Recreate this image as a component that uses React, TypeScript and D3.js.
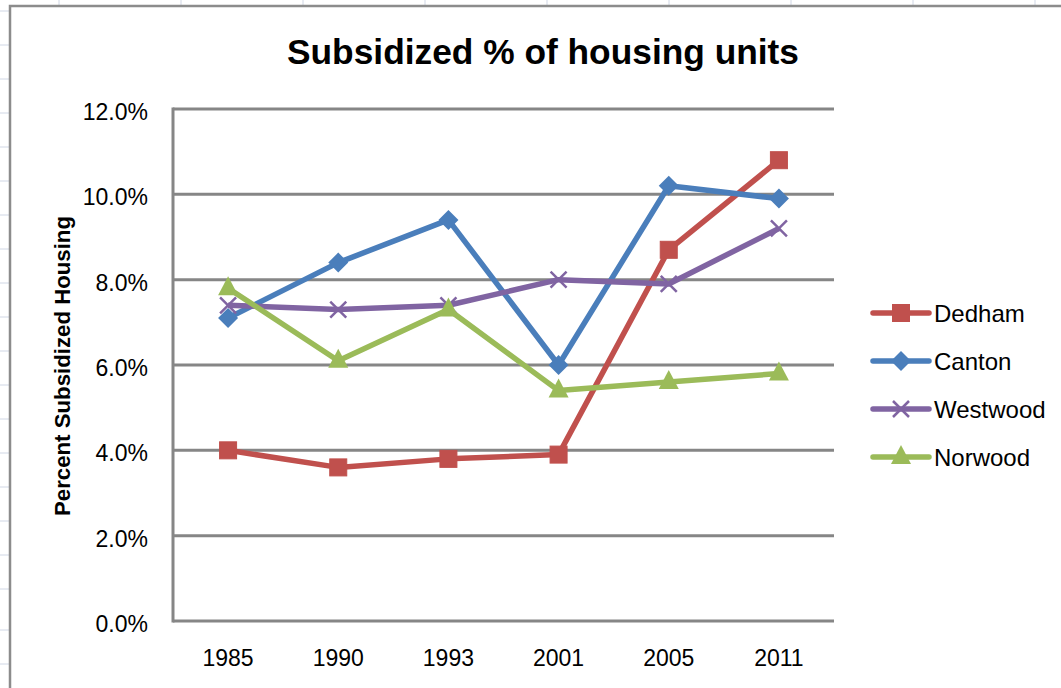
import React from "react";
import * as d3 from "d3";

const years = ["1985", "1990", "1993", "2001", "2005", "2011"];
const dedham = [4.0, 3.6, 3.8, 3.9, 8.7, 10.8];
const canton = [7.1, 8.4, 9.4, 6.0, 10.2, 9.9];
const westwood = [7.4, 7.3, 7.4, 8.0, 7.9, 9.2];
const norwood = [7.8, 6.1, 7.3, 5.4, 5.6, 5.8];
const yTicks = [0, 2, 4, 6, 8, 10, 12];

const seriesNames = ["Dedham", "Canton", "Westwood", "Norwood"];
const seriesColors = ["#C0504D", "#4A7EBB", "#8064A2", "#9BBB59"];
const seriesMarkers = ["square", "diamond", "x", "triangle"];
const seriesValues = [dedham, canton, westwood, norwood];

const W = 1061;
const H = 688;
const FONT = "'Liberation Sans', Arial, sans-serif";

function Marker({ type, x, y, color }: { type: string; x: number; y: number; color: string }) {
  if (type === "square") {
    return <rect x={x - 8.5} y={y - 8.5} width={17} height={17} fill={color} stroke={color} strokeWidth={1} />;
  }
  if (type === "diamond") {
    const s = 10;
    return <path d={`M${x},${y - s}L${x + s},${y}L${x},${y + s}L${x - s},${y}Z`} fill={color} />;
  }
  if (type === "x") {
    const s = 8;
    return (
      <path
        d={`M${x - s},${y - s}L${x + s},${y + s}M${x - s},${y + s}L${x + s},${y - s}`}
        stroke={color}
        strokeWidth={2.5}
        fill="none"
      />
    );
  }
  const s = 10;
  return <path d={`M${x},${y - s - 2}L${x + s},${y + s - 3}L${x - s},${y + s - 3}Z`} fill={color} />;
}

export default function App() {
  const left = 173;
  const right = 834;
  const top = 109;
  const bottom = 621;

  const x = d3.scaleBand().domain(years).range([left, right]);
  const y = d3.scaleLinear().domain([0, 12]).range([bottom, top]);
  const line = d3
    .line<number>()
    .x((_, i) => (x(years[i]) as number) + x.bandwidth() / 2)
    .y((d) => y(d));

  const sheetCols = d3.range(0, 9).map((i) => 59 + i * 122);
  const sheetRows = [11, 45, 79, 113, 147, 181, 215, 249, 283, 317, 351, 385, 419, 453, 487, 521, 555, 589, 630, 664];

  const legendX = 873;
  const legendY0 = 313;
  const legendDy = 48;

  return (
    <svg
      width={W}
      height={H}
      style={{ position: "absolute", left: 0, top: 0, background: "#fff" }}
      fontFamily={FONT}
    >
      {/* spreadsheet grid outside the chart frame */}
      {sheetCols.map((cx) => (
        <line key={"c" + cx} x1={cx} x2={cx} y1={0} y2={5} stroke="#D0D7E5" strokeWidth={1} />
      ))}
      {sheetRows.map((ry) => (
        <line key={"r" + ry} x1={0} x2={9} y1={ry} y2={ry} stroke="#D0D7E5" strokeWidth={1} />
      ))}
      {/* chart frame */}
      <rect x={10} y={6} width={W + 10} height={H + 10} fill="#fff" stroke="#8C8C8C" strokeWidth={2.5} />

      {/* title */}
      <text
        x={543}
        y={64}
        textAnchor="middle"
        fontSize={35}
        fontWeight="bold"
        fill="#000"
        textLength={512}
        lengthAdjust="spacingAndGlyphs"
      >
        Subsidized % of housing units
      </text>

      {/* gridlines */}
      {yTicks.map((t) => (
        <line key={t} x1={left} x2={right} y1={y(t)} y2={y(t)} stroke="#868686" strokeWidth={3} />
      ))}
      <line x1={left} x2={left} y1={top - 1.5} y2={bottom + 1.5} stroke="#868686" strokeWidth={3} />

      {/* y tick labels */}
      {yTicks.map((t) => (
        <text key={"l" + t} x={148} y={y(t) + 11} textAnchor="end" fontSize={23} fill="#000">
          {d3.format(".1f")(t) + "%"}
        </text>
      ))}
      {/* x tick labels */}
      {years.map((yr) => (
        <text
          key={yr}
          x={(x(yr) as number) + x.bandwidth() / 2}
          y={666}
          textAnchor="middle"
          fontSize={23}
          fill="#000"
        >
          {yr}
        </text>
      ))}

      {/* y axis title */}
      <text
        transform={`translate(70,366) rotate(-90)`}
        textAnchor="middle"
        fontSize={22}
        fontWeight="bold"
        fill="#000"
        textLength={300}
        lengthAdjust="spacingAndGlyphs"
      >
        Percent Subsidized Housing
      </text>

      {/* series */}
      {seriesValues.map((vals, si) => (
        <g key={seriesNames[si]}>
          <path d={line(vals) || ""} fill="none" stroke={seriesColors[si]} strokeWidth={5.5} strokeLinejoin="round" />
          {vals.map((v, i) => (
            <Marker
              key={i}
              type={seriesMarkers[si]}
              x={(x(years[i]) as number) + x.bandwidth() / 2}
              y={y(v)}
              color={seriesColors[si]}
            />
          ))}
        </g>
      ))}

      {/* legend */}
      {seriesNames.map((name, si) => {
        const ly = legendY0 + si * legendDy;
        return (
          <g key={"lg" + name}>
            <line
              x1={legendX}
              x2={legendX + 56}
              y1={ly}
              y2={ly}
              stroke={seriesColors[si]}
              strokeWidth={5.5}
              strokeLinecap="round"
            />
            <Marker type={seriesMarkers[si]} x={legendX + 28} y={ly} color={seriesColors[si]} />
            <text x={legendX + 61} y={ly + 9} fontSize={24} fill="#000">
              {name}
            </text>
          </g>
        );
      })}
    </svg>
  );
}
